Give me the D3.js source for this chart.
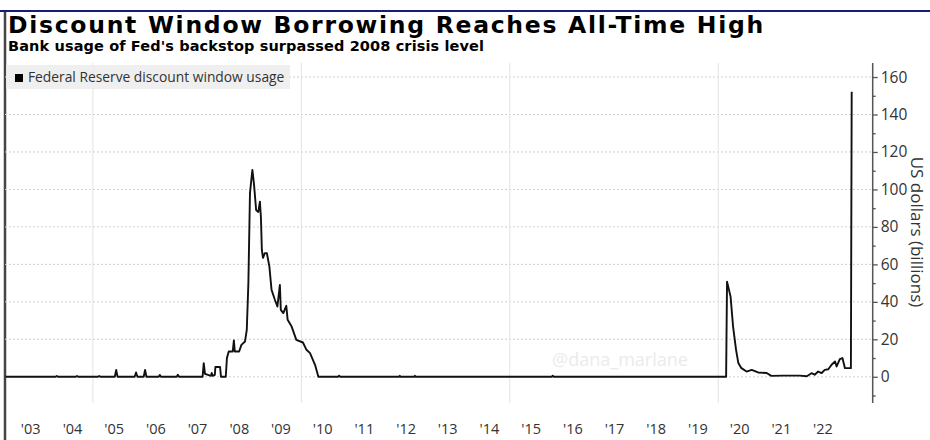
<!DOCTYPE html>
<html>
<head>
<meta charset="utf-8">
<script src="https://cdn.jsdelivr.net/npm/d3@7"></script>
<style>
  body { margin:0; background:#fff; }
  .chart-wrap { width:930px; height:440px; }
</style>
</head>
<body>
<div class="chart-wrap"></div>
<script>
// discount window usage, US$ bn
var usageDates = [
  "2002-11-25","2004-02-10","2004-02-20","2004-03-01","2004-08-05","2004-08-15","2004-08-25",
  "2005-02-15","2005-02-25","2005-03-07","2005-07-12","2005-07-24","2005-08-05",
  "2006-01-02","2006-01-14","2006-01-26","2006-03-22","2006-04-03","2006-04-15",
  "2006-08-01","2006-08-10","2006-08-20","2007-01-05","2007-01-15","2007-01-25",
  "2007-08-20","2007-08-30","2007-09-10","2007-11-01","2007-11-08","2007-11-15",
  "2007-12-05","2007-12-10","2008-01-20","2008-01-28",
  "2008-03-10","2008-03-20","2008-04-05","2008-05-10","2008-05-20","2008-05-28","2008-07-05",
  "2008-07-25","2008-08-25","2008-09-10","2008-09-24","2008-10-08","2008-10-29","2008-11-12",
  "2008-12-01","2008-12-20","2009-01-03","2009-01-12","2009-01-20","2009-01-30","2009-02-15",
  "2009-03-05","2009-03-27","2009-04-15","2009-05-15","2009-06-05","2009-06-27","2009-07-05",
  "2009-07-27","2009-08-22","2009-09-03","2009-10-08","2009-11-18","2010-01-15","2010-02-15",
  "2010-03-18","2010-05-01","2010-05-30",
  "2010-11-20","2010-11-28","2010-12-06","2012-05-05","2012-05-12","2012-05-19",
  "2012-09-15","2012-09-22","2012-09-29","2016-01-05","2016-01-12","2016-01-19",
  "2020-03-10","2020-03-18","2020-04-18","2020-05-10","2020-06-05","2020-06-25","2020-07-22",
  "2020-09-05","2020-10-20","2020-12-15","2021-02-28","2021-04-10","2021-07-20","2021-12-15",
  "2022-02-15","2022-03-28","2022-04-25","2022-05-25","2022-06-25","2022-07-22","2022-08-22",
  "2022-09-20","2022-10-20","2022-11-03","2022-12-01","2022-12-24","2023-01-15","2023-02-15",
  "2023-03-08","2023-03-15"
];
var usageValues = [
  0,0,0.4,0,0,0.4,0,
  0,0.4,0,0,3.7,0,
  0,2.3,0,0,3.7,0,
  0,1,0,0,1.1,0,
  0,7.3,1.5,0.5,2,0.5,
  1,5.2,5.2,0,
  0,10,13.5,13.5,19.4,13.5,13.5,
  17,18.8,25,50,98,110.4,103,
  89,88,93.5,85,67.7,63.5,66,
  66,58.8,46.4,41,37.5,49,35.7,
  34,37.9,30.4,26.8,19.7,18.3,14.4,
  12.6,6.4,0,
  0,0.6,0,0,0.5,0,
  0,0.5,0,0,0.6,0,
  0,50.8,42.8,26.8,14.4,7.3,4.6,
  2.8,3.7,2.3,2,0.5,0.6,0.6,
  0.3,1.9,1.1,2.8,2,3.7,4,
  6.4,8.2,5.5,9.4,10,4.6,4.6,
  4.6,152.2
];
var yearTicks = [2003,2004,2005,2006,2007,2008,2009,2010,2011,2012,2013,2014,2015,2016,2017,2018,2019,2020,2021,2022];
var gridYears = [2005,2010,2015,2020];
var yTicks = [0,20,40,60,80,100,120,140,160];
var yMinorTicks = [-10,10,30,50,70,90,110,130,150];

var titleText = "Discount Window Borrowing Reaches All-Time High";
var subtitleText = "Bank usage of Fed's backstop surpassed 2008 crisis level";
var legendText = "Federal Reserve discount window usage";
var yTitleText = "US dollars (billions)";
var watermarkText = "@dana_marlane";

var DiscountChart = function(opts){
  this.element = opts.elem;
  this.data = opts.data;
}

DiscountChart.prototype.draw = function(){
  this.width = 930;
  this.height = 440;
  this.plotLeft = 5;
  this.plotRight = 872.7;
  this.plotTop = 63;
  this.plotBottom = 403;

  this.element.innerHTML = '';
  this.svg = d3.select(this.element).append('svg')
    .attr('width', this.width)
    .attr('height', this.height)
    .style('font-family', '"Open Sans", sans-serif');

  this.createScales();
  this.addFrame();
  this.addTitles();
  this.addGrid();
  this.addLegend();
  this.addWatermark();
  this.addLine();
  this.addYAxis();
  this.addXAxis();
}

DiscountChart.prototype.createScales = function(){
  this.xScale = d3.scaleTime()
    .domain([new Date(2002, 10, 23), new Date(2023, 8, 15)])
    .range([this.plotLeft, this.plotRight]);
  this.yScale = d3.scaleLinear()
    .domain([-14, 167.5])
    .range([this.plotBottom, this.plotTop]);
}

DiscountChart.prototype.addFrame = function(){
  this.svg.append('line')
    .attr('x1', 0).attr('x2', this.width)
    .attr('y1', 11).attr('y2', 11)
    .attr('stroke', '#1a1a7a').attr('stroke-width', 2);
  this.svg.append('line')
    .attr('x1', 5).attr('x2', 5)
    .attr('y1', 12).attr('y2', this.height)
    .attr('stroke', '#444').attr('stroke-width', 2.5);
}

// keep the font size, spread the letters until the line spans the wanted width
DiscountChart.prototype.fitText = function(sel, size, target){
  sel.attr('font-size', size + 'px');
  var len = sel.node().getComputedTextLength();
  var n = sel.text().length;
  sel.attr('letter-spacing', ((target - len) / n).toFixed(2) + 'px');
}

DiscountChart.prototype.addTitles = function(){
  var title = this.svg.append('text')
    .attr('x', 8).attr('y', 33)
    .attr('font-family', '"DejaVu Sans", sans-serif')
    .attr('font-weight', 'bold')
    .attr('fill', '#000')
    .text(titleText);
  this.fitText(title, 23.5, 757);

  var sub = this.svg.append('text')
    .attr('x', 8).attr('y', 51)
    .attr('font-family', '"DejaVu Sans", sans-serif')
    .attr('font-weight', 'bold')
    .attr('fill', '#000')
    .text(subtitleText);
  this.fitText(sub, 14.5, 476);
}

DiscountChart.prototype.addGrid = function(){
  var self = this;
  this.svg.append('g').attr('class', 'h-grid').selectAll('line')
    .data(yTicks)
    .enter()
    .append('line')
    .attr('x1', this.plotLeft).attr('x2', this.plotRight)
    .attr('y1', function(d){ return self.yScale(d); })
    .attr('y2', function(d){ return self.yScale(d); })
    .attr('stroke', '#cfcfcf')
    .attr('stroke-dasharray', '2,2');

  this.svg.append('g').attr('class', 'v-grid').selectAll('line')
    .data(gridYears)
    .enter()
    .append('line')
    .attr('x1', function(d){ return self.xScale(new Date(d, 0, 1)); })
    .attr('x2', function(d){ return self.xScale(new Date(d, 0, 1)); })
    .attr('y1', this.plotTop).attr('y2', this.plotBottom)
    .attr('stroke', '#e3e3e3');
}

DiscountChart.prototype.addLegend = function(){
  this.svg.append('rect')
    .attr('x', 6).attr('y', 65)
    .attr('width', 284).attr('height', 24)
    .attr('fill', '#ececec')
    .attr('opacity', 0.85);
  this.svg.append('rect')
    .attr('x', 15).attr('y', 74)
    .attr('width', 8).attr('height', 8)
    .attr('fill', '#000');
  this.svg.append('text')
    .attr('x', 28).attr('y', 82)
    .attr('font-size', '13.8px')
    .attr('fill', '#333')
    .text(legendText);
}

DiscountChart.prototype.addWatermark = function(){
  this.svg.append('text')
    .attr('x', 620).attr('y', 366)
    .attr('text-anchor', 'middle')
    .attr('font-size', '18px')
    .attr('fill', '#ebebeb')
    .text(watermarkText);
}

DiscountChart.prototype.addLine = function(){
  var self = this;
  this.lineGen = d3.line()
    .x(function(d){ return self.xScale(d.date); })
    .y(function(d){ return self.yScale(d.value); })
    .curve(d3.curveLinear);

  this.svg.append('path')
    .attr('class', 'line-path')
    .attr('d', this.lineGen(this.data))
    .attr('fill', 'none')
    .attr('stroke', '#111')
    .attr('stroke-width', 1.9)
    .attr('stroke-linejoin', 'round');
}

DiscountChart.prototype.addYAxis = function(){
  var g = this.svg.append('g')
    .attr('class', 'y-axis')
    .attr('transform', 'translate(' + this.plotRight + ',0)');
  g.call(d3.axisRight(this.yScale).tickValues(yTicks).tickSize(5).tickPadding(3));
  g.select('.domain')
    .attr('d', 'M0,' + this.plotTop + 'V' + this.plotBottom)
    .attr('stroke', '#555').attr('stroke-width', 1.5);

  var minor = g.append('g').attr('class', 'minor');
  minor.call(d3.axisRight(this.yScale).tickValues(yMinorTicks).tickSize(3).tickFormat(''));
  minor.select('.domain').remove();

  g.selectAll('.tick line').attr('stroke', '#555').attr('stroke-width', 1.3);
  g.selectAll('.tick text')
    .attr('font-family', '"Open Sans", sans-serif')
    .attr('font-size', '15.5px')
    .attr('fill', '#333');

  this.svg.append('text')
    .attr('transform', 'translate(911,232) rotate(90)')
    .attr('text-anchor', 'middle')
    .attr('font-size', '17px')
    .attr('fill', '#333')
    .text(yTitleText);
}

DiscountChart.prototype.addXAxis = function(){
  var g = this.svg.append('g')
    .attr('class', 'x-axis')
    .attr('transform', 'translate(0,' + this.plotBottom + ')');
  g.call(d3.axisBottom(this.xScale)
    .tickValues(yearTicks.map(function(y){ return new Date(y, 6, 2); }))
    .tickFormat(d3.timeFormat("'%y"))
    .tickSize(0)
    .tickPadding(21));
  g.select('.domain').remove();
  g.selectAll('.tick text')
    .attr('font-family', '"Open Sans", sans-serif')
    .attr('font-size', '14.5px')
    .attr('fill', '#333');
}

var parseDate = d3.timeParse('%Y-%m-%d');
var series = usageDates.map(function(d, i){
  return { date: parseDate(d), value: usageValues[i] };
});

var chart = new DiscountChart({ elem: document.querySelector('.chart-wrap'), data: series });
chart.draw();
</script>
</body>
</html>
